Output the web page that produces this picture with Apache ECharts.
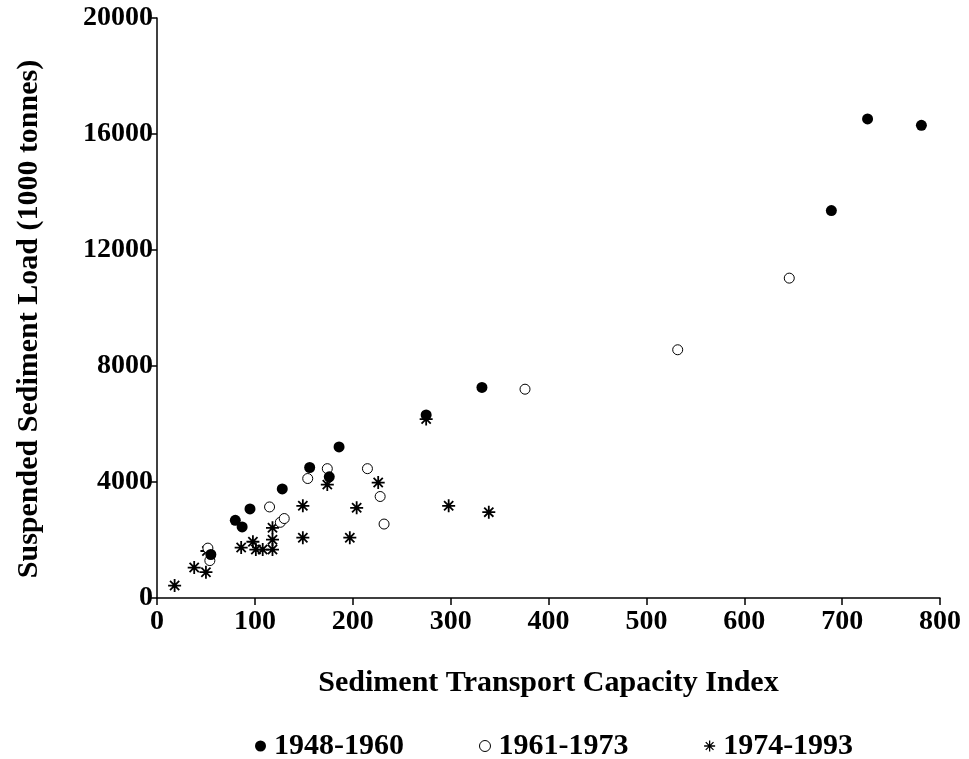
<!DOCTYPE html>
<html><head><meta charset="utf-8">
<script src="https://cdn.jsdelivr.net/npm/echarts@6/dist/echarts.min.js"></script>
<style>html,body{margin:0;padding:0;background:#fff}#c{width:969px;height:759px}</style>
</head><body><div id="c"></div>
<script>
const seriesNames = ['1948-1960', '1961-1973', '1974-1993'];
const xTicks = [0, 100, 200, 300, 400, 500, 600, 700, 800];
const yTicks = [0, 4000, 8000, 12000, 16000, 20000];
const p1948 = [[55,1500],[80,2680],[87,2450],[95,3070],[128,3760],[156,4500],[176,4180],[186,5210],[275,6310],[332,7260],[689,13360],[726,16520],[781,16300]];
const p1961 = [[52,1720],[54,1290],[115,3140],[126,2610],[130,2740],[154,4120],[174,4460],[215,4460],[228,3500],[232,2550],[376,7200],[532,8560],[646,11030]];
const p1974 = [[18,430],[38,1050],[50,890],[51,1620],[86,1740],[98,1940],[101,1670],[108,1670],[118,1670],[118,2010],[118,2420],[149,3180],[149,2080],[174,3910],[197,2080],[204,3110],[226,3980],[275,6170],[298,3180],[339,2960]];

const FONT = 'Liberation Serif';
const FS = 28;
const FT = 30;
const star = 'path://M0,-10L0,10M-10,0L10,0M-7.07,-7.07L7.07,7.07M-7.07,7.07L7.07,-7.07';
const chart = echarts.init(document.getElementById('c'));
chart.setOption({
  animation: false,
  backgroundColor: '#fff',
  textStyle: {fontFamily: FONT, fontWeight: 'bold', color: '#000'},
  grid: {left: 157, right: 29, top: 18, bottom: 161},
  xAxis: {
    type: 'value', min: xTicks[0], max: xTicks[xTicks.length-1], interval: 100,
    name: 'Sediment Transport Capacity Index', nameLocation: 'middle', nameGap: 70,
    nameTextStyle: {fontFamily: FONT, fontWeight: 'bold', fontSize: FT, color: '#000'},
    axisLine: {lineStyle: {color: '#000', width: 1.5}},
    axisTick: {length: 7, lineStyle: {color: '#000', width: 1.5}},
    axisLabel: {fontFamily: FONT, fontWeight: 'bold', fontSize: FS, color: '#000', margin: 10,
      formatter: v => String(v)},
    splitLine: {show: false}
  },
  yAxis: {
    type: 'value', min: yTicks[0], max: yTicks[yTicks.length-1], interval: 4000,
    name: 'Suspended Sediment Load (1000 tonnes)', nameLocation: 'middle', nameGap: 113, nameRotate: 90,
    nameTextStyle: {fontFamily: FONT, fontWeight: 'bold', fontSize: FT, color: '#000', padding: [0, 22, 0, 0]},
    axisLine: {show: true, lineStyle: {color: '#000', width: 1.5}},
    axisTick: {show: true, length: 7, lineStyle: {color: '#000', width: 1.5}},
    axisLabel: {fontFamily: FONT, fontWeight: 'bold', fontSize: FS, color: '#000', margin: 4,
      formatter: v => String(v)},
    splitLine: {show: false}
  },
  legend: {
    top: 726, left: 250, itemGap: 75, itemWidth: 11, itemHeight: 11,
    data: [
      {name: seriesNames[0], icon: 'circle', itemStyle: {color: '#000', borderWidth: 0}},
      {name: seriesNames[1], icon: 'circle', itemStyle: {color: '#fff', borderColor: '#000', borderWidth: 1}},
      {name: seriesNames[2], icon: star, itemStyle: {color: '#000', borderColor: '#000', borderWidth: 1.3}}
    ],
    textStyle: {fontFamily: FONT, fontWeight: 'bold', fontSize: FT, color: '#000', padding: [0,0,0,3]}
  },
  series: [
    {name: seriesNames[0], type: 'scatter', data: p1948, symbol: 'circle', symbolSize: 11, z: 4,
     itemStyle: {color: '#000', opacity: 1}},
    {name: seriesNames[1], type: 'scatter', data: p1961, symbol: 'circle', symbolSize: 10, z: 3,
     itemStyle: {color: '#fff', borderColor: '#000', borderWidth: 1, opacity: 1}},
    {name: seriesNames[2], type: 'scatter', data: p1974, symbol: star, symbolSize: 13, z: 2,
     itemStyle: {color: '#000', borderColor: '#000', borderWidth: 1.8, opacity: 1}}
  ]
});
</script></body></html>
